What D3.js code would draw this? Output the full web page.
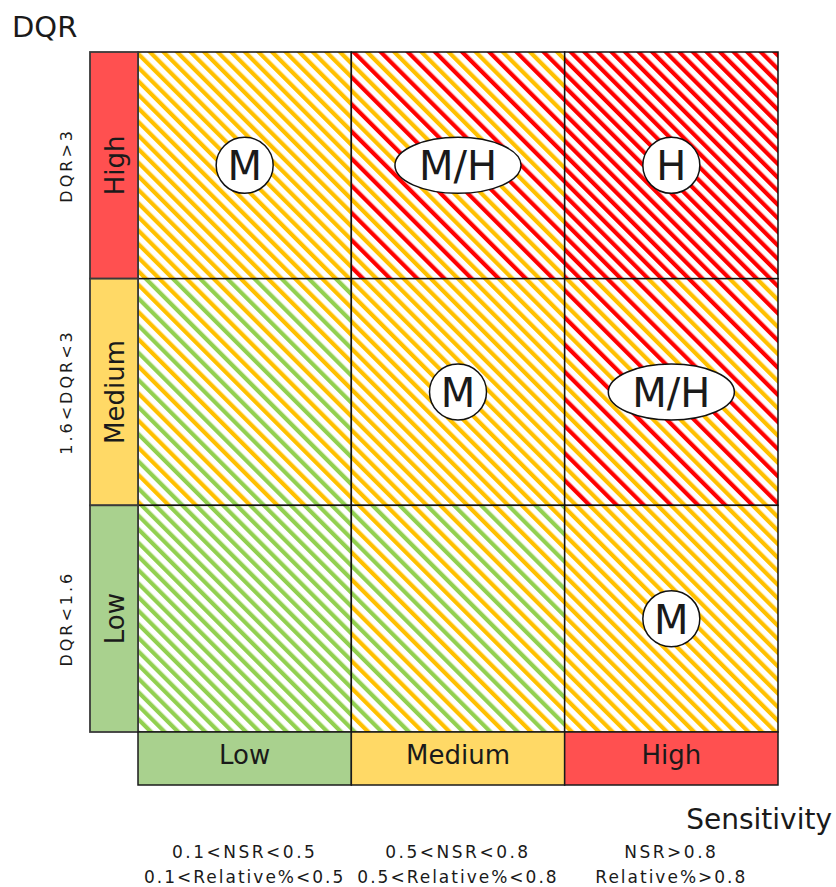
<!DOCTYPE html>
<html>
<head>
<meta charset="utf-8">
<script src="https://cdn.jsdelivr.net/npm/d3@7"></script>
<style>
  html, body { margin: 0; padding: 0; background: #fff; }
  text { font-family: "DejaVu Sans", Verdana, sans-serif; fill: #1a1a1a; }
</style>
</head>
<body>
<svg id="chart" width="836" height="887"></svg>
<script>
// ---- data ----
const rowLevels = ["High", "Medium", "Low"];              // DQR (top to bottom)
const rowRanges = ["DQR>3", "1.6<DQR<3", "DQR<1.6"];
const colLevels = ["Low", "Medium", "High"];              // Sensitivity (left to right)
const colRangesNSR = ["0.1<NSR<0.5", "0.5<NSR<0.8", "NSR>0.8"];
const colRangesRel = ["0.1<Relative%<0.5", "0.5<Relative%<0.8", "Relative%>0.8"];
// cell ratings: rows x cols
const cellRatings = [
  ["M", "M/H", "H"],
  ["", "M", "M/H"],
  ["", "", "M"]
];
// stripe colour pair of each cell (first, second)
const cellStripeA = [
  ["orange", "red", "red"],
  ["green", "orange", "red"],
  ["green", "green", "orange"]
];
const cellStripeB = [
  ["orange", "orange", "red"],
  ["orange", "orange", "orange"],
  ["green", "orange", "orange"]
];
const stripeColors = { orange: "#FFC000", red: "#FF0000", green: "#92D050" };
const levelColors = { High: "#FF5050", Medium: "#FFD966", Low: "#A9D18E" };

// ---- layout ----
const svg = d3.select("#chart");
const gridLeft = 138, gridRight = 778, gridTop = 52, gridBottom = 732;
const stripLeft = 90, stripBottom = 785;

const x = d3.scaleBand().domain(colLevels).range([gridLeft, gridRight]);
const y = d3.scaleBand().domain(rowLevels).range([gridTop, gridBottom]);

// ---- hatch patterns ----
const defs = svg.append("defs");
const period = 9.6, stripeW = 4.2;
const pairs = [];
for (let r = 0; r < rowLevels.length; r++)
  for (let c = 0; c < colLevels.length; c++) {
    const key = cellStripeA[r][c] + "-" + cellStripeB[r][c];
    if (!pairs.includes(key)) pairs.push(key);
  }
pairs.forEach(key => {
  const [a, b] = key.split("-");
  const p = defs.append("pattern")
    .attr("id", "hatch-" + key)
    .attr("patternUnits", "userSpaceOnUse")
    .attr("width", period * 2)
    .attr("height", 20)
    .attr("patternTransform", "rotate(-45)");
  p.append("rect").attr("x", 0).attr("y", 0).attr("width", period * 2).attr("height", 20).attr("fill", "#fff");
  p.append("rect").attr("x", 0).attr("y", 0).attr("width", stripeW).attr("height", 20).attr("fill", stripeColors[a]);
  p.append("rect").attr("x", period).attr("y", 0).attr("width", stripeW).attr("height", 20).attr("fill", stripeColors[b]);
});

// ---- cells ----
const cells = [];
rowLevels.forEach((rl, r) => colLevels.forEach((cl, c) => cells.push({
  row: rl, col: cl, rating: cellRatings[r][c], key: cellStripeA[r][c] + "-" + cellStripeB[r][c]
})));

svg.append("g").selectAll("rect").data(cells).join("rect")
  .attr("x", d => x(d.col)).attr("y", d => y(d.row))
  .attr("width", x.bandwidth()).attr("height", y.bandwidth())
  .attr("fill", d => "url(#hatch-" + d.key + ")")
  .attr("stroke", "#111").attr("stroke-width", 1.5);

// ---- left strip (DQR levels) ----
const leftG = svg.append("g");
leftG.selectAll("rect").data(rowLevels).join("rect")
  .attr("x", stripLeft).attr("y", d => y(d))
  .attr("width", gridLeft - stripLeft).attr("height", y.bandwidth())
  .attr("fill", d => levelColors[d])
  .attr("stroke", "#3a3a3a").attr("stroke-width", 1.8);
leftG.selectAll("text.lvl").data(rowLevels).join("text").attr("class", "lvl")
  .attr("transform", d => `translate(${(stripLeft + gridLeft) / 2 + 1},${y(d) + y.bandwidth() / 2}) rotate(-90)`)
  .attr("text-anchor", "middle").attr("dominant-baseline", "central")
  .style("font-size", "26px").text(d => d);
leftG.selectAll("text.rng").data(rowLevels).join("text").attr("class", "rng")
  .attr("transform", (d, i) => `translate(66,${y(d) + y.bandwidth() / 2}) rotate(-90)`)
  .attr("text-anchor", "middle").attr("dominant-baseline", "central")
  .style("font-size", "16px").style("letter-spacing", "3px")
  .text((d, i) => rowRanges[i]);

// ---- bottom strip (Sensitivity levels) ----
const botG = svg.append("g");
botG.selectAll("rect").data(colLevels).join("rect")
  .attr("x", d => x(d)).attr("y", gridBottom)
  .attr("width", x.bandwidth()).attr("height", stripBottom - gridBottom)
  .attr("fill", d => levelColors[d])
  .attr("stroke", "#1a1a1a").attr("stroke-width", 1.5);
botG.selectAll("text.lvl").data(colLevels).join("text").attr("class", "lvl")
  .attr("x", d => x(d) + x.bandwidth() / 2).attr("y", 764)
  .attr("text-anchor", "middle").style("font-size", "26px").text(d => d);
botG.selectAll("text.nsr").data(colLevels).join("text").attr("class", "nsr")
  .attr("x", d => x(d) + x.bandwidth() / 2).attr("y", 858)
  .attr("text-anchor", "middle").style("font-size", "17px").style("letter-spacing", "2.5px")
  .text((d, i) => colRangesNSR[i]);
botG.selectAll("text.rel").data(colLevels).join("text").attr("class", "rel")
  .attr("x", d => x(d) + x.bandwidth() / 2).attr("y", 883)
  .attr("text-anchor", "middle").style("font-size", "17px").style("letter-spacing", "2px")
  .text((d, i) => colRangesRel[i]);

// ---- rating badges ----
const badge = svg.append("g").selectAll("g").data(cells.filter(d => d.rating)).join("g")
  .attr("transform", d => `translate(${x(d.col) + x.bandwidth() / 2},${y(d.row) + y.bandwidth() / 2})`);
badge.append("ellipse").attr("fill", "#fff").attr("stroke", "#111").attr("stroke-width", 1.5);
badge.append("text").attr("text-anchor", "middle").attr("dominant-baseline", "central")
  .attr("y", 1).style("font-size", "40px").text(d => d.rating);
badge.each(function () {
  const g = d3.select(this);
  const len = g.select("text").node().getComputedTextLength();
  const rx = len > 50 ? len / 2 + 24 : 28.5;
  g.select("ellipse").attr("rx", rx).attr("ry", 28);
});

// ---- titles ----
svg.append("text").attr("x", 12).attr("y", 37).style("font-size", "29px").text("DQR");
svg.append("text").attr("x", 832).attr("y", 829).attr("text-anchor", "end").style("font-size", "28px").text("Sensitivity");
</script>
</body>
</html>
